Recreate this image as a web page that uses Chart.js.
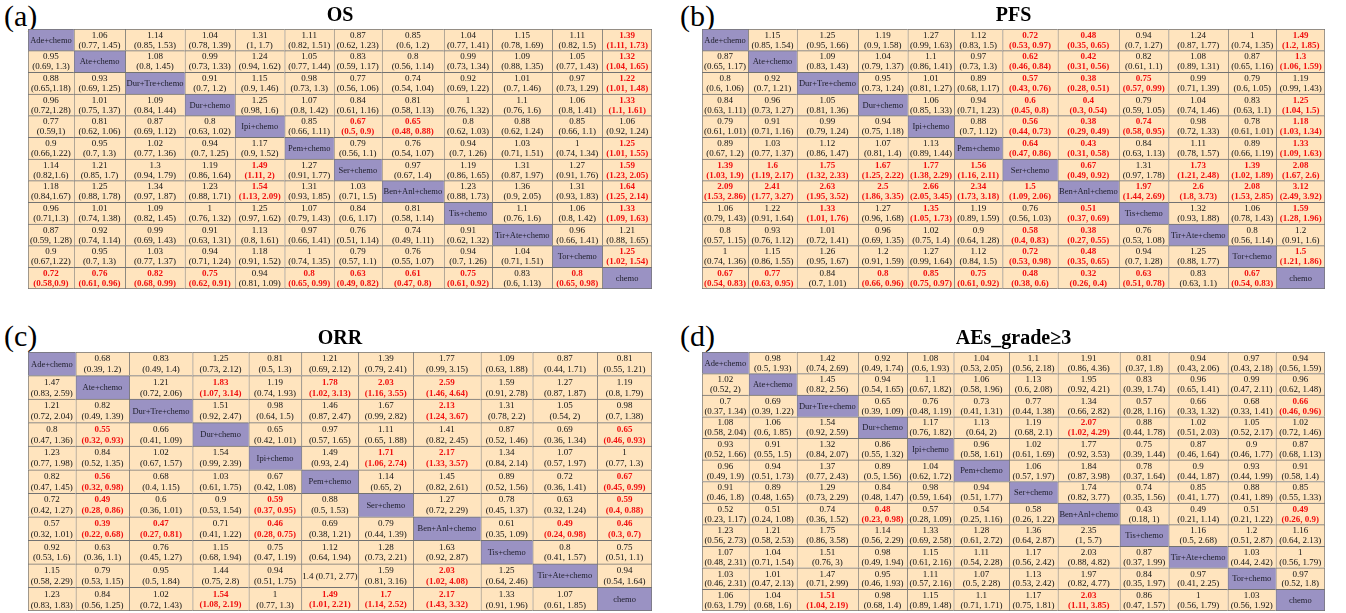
<!DOCTYPE html>
<html><head><meta charset="utf-8">
<script src="https://cdn.jsdelivr.net/npm/chart.js@4.4.1/dist/chart.umd.min.js"></script>
<style>
html,body{margin:0;padding:0;background:#fff;width:1346px;height:613px;overflow:hidden}
.tag{position:absolute;font-family:'Liberation Serif',serif;font-size:30px;color:#000;line-height:1}
canvas{position:absolute}
</style></head><body>
<div class="tag" style="left:4px;top:1px">(a)</div>
<div class="tag" style="left:680px;top:1px">(b)</div>
<div class="tag" style="left:4px;top:321px">(c)</div>
<div class="tag" style="left:680px;top:321px">(d)</div>
<canvas id="cA" width="624" height="289" style="left:28px;top:0px"></canvas>
<canvas id="cB" width="623" height="289" style="left:702px;top:0px"></canvas>
<canvas id="cC" width="624" height="288" style="left:28px;top:323px"></canvas>
<canvas id="cD" width="623" height="288" style="left:702px;top:323px"></canvas>
<script>
// ---------- DATA ----------
const treatments12 = ["Ade+chemo","Ate+chemo","Dur+Tre+chemo","Dur+chemo","Ipi+chemo","Pem+chemo","Ser+chemo","Ben+Anl+chemo","Tis+chemo","Tir+Ate+chemo","Tor+chemo","chemo"];
const treatments11 = ["Ade+chemo","Ate+chemo","Dur+Tre+chemo","Dur+chemo","Ipi+chemo","Pem+chemo","Ser+chemo","Ben+Anl+chemo","Tis+chemo","Tir+Ate+chemo","chemo"];

const osCells = [
["", "1.06 (0.77, 1.45)", "1.14 (0.85, 1.53)", "1.04 (0.78, 1.39)", "1.31 (1, 1.7)", "1.11 (0.82, 1.51)", "0.87 (0.62, 1.23)", "0.85 (0.6, 1.2)", "1.04 (0.77, 1.41)", "1.15 (0.78, 1.69)", "1.11 (0.82, 1.5)", "1.39 (1.11, 1.73)"],
["0.95 (0.69, 1.3)", "", "1.08 (0.8, 1.45)", "0.99 (0.73, 1.33)", "1.24 (0.94, 1.62)", "1.05 (0.77, 1.44)", "0.83 (0.59, 1.17)", "0.8 (0.56, 1.14)", "0.99 (0.73, 1.34)", "1.09 (0.88, 1.35)", "1.05 (0.77, 1.43)", "1.32 (1.04, 1.65)"],
["0.88 (0.65,1.18)", "0.93 (0.69, 1.25)", "", "0.91 (0.7, 1.2)", "1.15 (0.9, 1.46)", "0.98 (0.73, 1.3)", "0.77 (0.56, 1.06)", "0.74 (0.54, 1.04)", "0.92 (0.69, 1.22)", "1.01 (0.7, 1.46)", "0.97 (0.73, 1.29)", "1.22 (1.01, 1.48)"],
["0.96 (0.72,1.28)", "1.01 (0.75, 1.37)", "1.09 (0.84, 1.44)", "", "1.25 (0.98, 1.6)", "1.07 (0.8, 1.42)", "0.84 (0.61, 1.16)", "0.81 (0.58, 1.13)", "1 (0.76, 1.32)", "1.1 (0.76, 1.6)", "1.06 (0.8, 1.41)", "1.33 (1.1, 1.61)"],
["0.77 (0.59,1)", "0.81 (0.62, 1.06)", "0.87 (0.69, 1.12)", "0.8 (0.63, 1.02)", "", "0.85 (0.66, 1.11)", "0.67 (0.5, 0.9)", "0.65 (0.48, 0.88)", "0.8 (0.62, 1.03)", "0.88 (0.62, 1.24)", "0.85 (0.66, 1.1)", "1.06 (0.92, 1.24)"],
["0.9 (0.66,1.22)", "0.95 (0.7, 1.3)", "1.02 (0.77, 1.36)", "0.94 (0.7, 1.25)", "1.17 (0.9, 1.52)", "", "0.79 (0.56, 1.1)", "0.76 (0.54, 1.07)", "0.94 (0.7, 1.26)", "1.03 (0.71, 1.51)", "1 (0.74, 1.34)", "1.25 (1.01, 1.55)"],
["1.14 (0.82,1.6)", "1.21 (0.85, 1.7)", "1.3 (0.94, 1.79)", "1.19 (0.86, 1.64)", "1.49 (1.11, 2)", "1.27 (0.91, 1.77)", "", "0.97 (0.67, 1.4)", "1.19 (0.86, 1.65)", "1.31 (0.87, 1.97)", "1.27 (0.91, 1.76)", "1.59 (1.23, 2.05)"],
["1.18 (0.84,1.67)", "1.25 (0.88, 1.78)", "1.34 (0.97, 1.87)", "1.23 (0.88, 1.71)", "1.54 (1.13, 2.09)", "1.31 (0.93, 1.85)", "1.03 (0.71, 1.5)", "", "1.23 (0.88, 1.73)", "1.36 (0.9, 2.05)", "1.31 (0.93, 1.83)", "1.64 (1.25, 2.14)"],
["0.96 (0.71,1.3)", "1.01 (0.74, 1.38)", "1.09 (0.82, 1.45)", "1 (0.76, 1.32)", "1.25 (0.97, 1.62)", "1.07 (0.79, 1.43)", "0.84 (0.6, 1.17)", "0.81 (0.58, 1.14)", "", "1.1 (0.76, 1.6)", "1.06 (0.8, 1.42)", "1.33 (1.09, 1.63)"],
["0.87 (0.59, 1.28)", "0.92 (0.74, 1.14)", "0.99 (0.69, 1.43)", "0.91 (0.63, 1.31)", "1.13 (0.8, 1.61)", "0.97 (0.66, 1.41)", "0.76 (0.51, 1.14)", "0.74 (0.49, 1.11)", "0.91 (0.62, 1.32)", "", "0.96 (0.66, 1.41)", "1.21 (0.88, 1.65)"],
["0.9 (0.67,1.22)", "0.95 (0.7, 1.3)", "1.03 (0.77, 1.37)", "0.94 (0.71, 1.24)", "1.18 (0.91, 1.52)", "1 (0.74, 1.35)", "0.79 (0.57, 1.1)", "0.76 (0.55, 1.07)", "0.94 (0.7, 1.26)", "1.04 (0.71, 1.51)", "", "1.25 (1.02, 1.54)"],
["0.72 (0.58,0.9)", "0.76 (0.61, 0.96)", "0.82 (0.68, 0.99)", "0.75 (0.62, 0.91)", "0.94 (0.81, 1.09)", "0.8 (0.65, 0.99)", "0.63 (0.49, 0.82)", "0.61 (0.47, 0.8)", "0.75 (0.61, 0.92)", "0.83 (0.6, 1.13)", "0.8 (0.65, 0.98)", ""]
];

const pfsCells = [
["", "1.15 (0.85, 1.54)", "1.25 (0.95, 1.66)", "1.19 (0.9, 1.58)", "1.27 (0.99, 1.63)", "1.12 (0.83, 1.5)", "0.72 (0.53, 0.97)", "0.48 (0.35, 0.65)", "0.94 (0.7, 1.27)", "1.24 (0.87, 1.77)", "1 (0.74, 1.35)", "1.49 (1.2, 1.85)"],
["0.87 (0.65, 1.17)", "", "1.09 (0.83, 1.43)", "1.04 (0.79, 1.37)", "1.1 (0.86, 1.41)", "0.97 (0.73, 1.3)", "0.62 (0.46, 0.84)", "0.42 (0.31, 0.56)", "0.82 (0.61, 1.1)", "1.08 (0.89, 1.31)", "0.87 (0.65, 1.16)", "1.3 (1.06, 1.59)"],
["0.8 (0.6, 1.06)", "0.92 (0.7, 1.21)", "", "0.95 (0.73, 1.24)", "1.01 (0.81, 1.27)", "0.89 (0.68, 1.17)", "0.57 (0.43, 0.76)", "0.38 (0.28, 0.51)", "0.75 (0.57, 0.99)", "0.99 (0.71, 1.39)", "0.79 (0.6, 1.05)", "1.19 (0.99, 1.43)"],
["0.84 (0.63, 1.11)", "0.96 (0.73, 1.27)", "1.05 (0.81, 1.36)", "", "1.06 (0.85, 1.33)", "0.94 (0.71, 1.23)", "0.6 (0.45, 0.8)", "0.4 (0.3, 0.54)", "0.79 (0.59, 1.05)", "1.04 (0.74, 1.46)", "0.83 (0.63, 1.1)", "1.25 (1.04, 1.5)"],
["0.79 (0.61, 1.01)", "0.91 (0.71, 1.16)", "0.99 (0.79, 1.24)", "0.94 (0.75, 1.18)", "", "0.88 (0.7, 1.12)", "0.56 (0.44, 0.73)", "0.38 (0.29, 0.49)", "0.74 (0.58, 0.95)", "0.98 (0.72, 1.33)", "0.78 (0.61, 1.01)", "1.18 (1.03, 1.34)"],
["0.89 (0.67, 1.2)", "1.03 (0.77, 1.37)", "1.12 (0.86, 1.47)", "1.07 (0.81, 1.4)", "1.13 (0.89, 1.44)", "", "0.64 (0.47, 0.86)", "0.43 (0.31, 0.58)", "0.84 (0.63, 1.13)", "1.11 (0.78, 1.57)", "0.89 (0.66, 1.19)", "1.33 (1.09, 1.63)"],
["1.39 (1.03, 1.9)", "1.6 (1.19, 2.17)", "1.75 (1.32, 2.33)", "1.67 (1.25, 2.22)", "1.77 (1.38, 2.29)", "1.56 (1.16, 2.11)", "", "0.67 (0.49, 0.92)", "1.31 (0.97, 1.78)", "1.73 (1.21, 2.48)", "1.39 (1.02, 1.89)", "2.08 (1.67, 2.6)"],
["2.09 (1.53, 2.86)", "2.41 (1.77, 3.27)", "2.63 (1.95, 3.52)", "2.5 (1.86, 3.35)", "2.66 (2.05, 3.45)", "2.34 (1.73, 3.18)", "1.5 (1.09, 2.06)", "", "1.97 (1.44, 2.69)", "2.6 (1.8, 3.73)", "2.08 (1.53, 2.85)", "3.12 (2.49, 3.92)"],
["1.06 (0.79, 1.43)", "1.22 (0.91, 1.64)", "1.33 (1.01, 1.76)", "1.27 (0.96, 1.68)", "1.35 (1.05, 1.73)", "1.19 (0.89, 1.59)", "0.76 (0.56, 1.03)", "0.51 (0.37, 0.69)", "", "1.32 (0.93, 1.88)", "1.06 (0.78, 1.43)", "1.59 (1.28, 1.96)"],
["0.8 (0.57, 1.15)", "0.93 (0.76, 1.12)", "1.01 (0.72, 1.41)", "0.96 (0.69, 1.35)", "1.02 (0.75, 1.4)", "0.9 (0.64, 1.28)", "0.58 (0.4, 0.83)", "0.38 (0.27, 0.55)", "0.76 (0.53, 1.08)", "", "0.8 (0.56, 1.14)", "1.2 (0.91, 1.6)"],
["1 (0.74, 1.36)", "1.15 (0.86, 1.55)", "1.26 (0.95, 1.67)", "1.2 (0.91, 1.59)", "1.27 (0.99, 1.64)", "1.12 (0.84, 1.5)", "0.72 (0.53, 0.98)", "0.48 (0.35, 0.65)", "0.94 (0.7, 1.28)", "1.25 (0.88, 1.77)", "", "1.5 (1.21, 1.86)"],
["0.67 (0.54, 0.83)", "0.77 (0.63, 0.95)", "0.84 (0.7, 1.01)", "0.8 (0.66, 0.96)", "0.85 (0.75, 0.97)", "0.75 (0.61, 0.92)", "0.48 (0.38, 0.6)", "0.32 (0.26, 0.4)", "0.63 (0.51, 0.78)", "0.83 (0.63, 1.1)", "0.67 (0.54, 0.83)", ""]
];

const orrCells = [
["", "0.68 (0.39, 1.2)", "0.83 (0.49, 1.4)", "1.25 (0.73, 2.12)", "0.81 (0.5, 1.3)", "1.21 (0.69, 2.12)", "1.39 (0.79, 2.41)", "1.77 (0.99, 3.15)", "1.09 (0.63, 1.88)", "0.87 (0.44, 1.71)", "0.81 (0.55, 1.21)"],
["1.47 (0.83, 2.59)", "", "1.21 (0.72, 2.06)", "1.83 (1.07, 3.14)", "1.19 (0.74, 1.93)", "1.78 (1.02, 3.13)", "2.03 (1.16, 3.55)", "2.59 (1.46, 4.64)", "1.59 (0.91, 2.78)", "1.27 (0.87, 1.87)", "1.19 (0.8, 1.79)"],
["1.21 (0.72, 2.04)", "0.82 (0.49, 1.39)", "", "1.51 (0.92, 2.47)", "0.98 (0.64, 1.5)", "1.46 (0.87, 2.47)", "1.67 (0.99, 2.82)", "2.13 (1.24, 3.67)", "1.31 (0.78, 2.2)", "1.05 (0.54, 2)", "0.98 (0.7, 1.38)"],
["0.8 (0.47, 1.36)", "0.55 (0.32, 0.93)", "0.66 (0.41, 1.09)", "", "0.65 (0.42, 1.01)", "0.97 (0.57, 1.65)", "1.11 (0.65, 1.88)", "1.41 (0.82, 2.45)", "0.87 (0.52, 1.46)", "0.69 (0.36, 1.34)", "0.65 (0.46, 0.93)"],
["1.23 (0.77, 1.98)", "0.84 (0.52, 1.35)", "1.02 (0.67, 1.57)", "1.54 (0.99, 2.39)", "", "1.49 (0.93, 2.4)", "1.71 (1.06, 2.74)", "2.17 (1.33, 3.57)", "1.34 (0.84, 2.14)", "1.07 (0.57, 1.97)", "1 (0.77, 1.3)"],
["0.82 (0.47, 1.45)", "0.56 (0.32, 0.98)", "0.68 (0.4, 1.15)", "1.03 (0.61, 1.75)", "0.67 (0.42, 1.08)", "", "1.14 (0.65, 2)", "1.45 (0.82, 2.61)", "0.89 (0.52, 1.56)", "0.72 (0.36, 1.41)", "0.67 (0.45, 0.99)"],
["0.72 (0.42, 1.27)", "0.49 (0.28, 0.86)", "0.6 (0.36, 1.01)", "0.9 (0.53, 1.54)", "0.59 (0.37, 0.95)", "0.88 (0.5, 1.53)", "", "1.27 (0.72, 2.29)", "0.78 (0.45, 1.37)", "0.63 (0.32, 1.24)", "0.59 (0.4, 0.88)"],
["0.57 (0.32, 1.01)", "0.39 (0.22, 0.68)", "0.47 (0.27, 0.81)", "0.71 (0.41, 1.22)", "0.46 (0.28, 0.75)", "0.69 (0.38, 1.21)", "0.79 (0.44, 1.39)", "", "0.61 (0.35, 1.09)", "0.49 (0.24, 0.98)", "0.46 (0.3, 0.7)"],
["0.92 (0.53, 1.6)", "0.63 (0.36, 1.1)", "0.76 (0.45, 1.27)", "1.15 (0.68, 1.94)", "0.75 (0.47, 1.19)", "1.12 (0.64, 1.94)", "1.28 (0.73, 2.21)", "1.63 (0.92, 2.87)", "", "0.8 (0.41, 1.57)", "0.75 (0.51, 1.1)"],
["1.15 (0.58, 2.29)", "0.79 (0.53, 1.15)", "0.95 (0.5, 1.84)", "1.44 (0.75, 2.8)", "0.94 (0.51, 1.75)", "1.4 (0.71, 2.77)", "1.59 (0.81, 3.16)", "2.03 (1.02, 4.08)", "1.25 (0.64, 2.46)", "", "0.94 (0.54, 1.64)"],
["1.23 (0.83, 1.83)", "0.84 (0.56, 1.25)", "1.02 (0.72, 1.43)", "1.54 (1.08, 2.19)", "1 (0.77, 1.3)", "1.49 (1.01, 2.21)", "1.7 (1.14, 2.52)", "2.17 (1.43, 3.32)", "1.33 (0.91, 1.96)", "1.07 (0.61, 1.85)", ""]
];

const aeCells = [
["", "0.98 (0.5, 1.93)", "1.42 (0.74, 2.69)", "0.92 (0.49, 1.74)", "1.08 (0.6, 1.93)", "1.04 (0.53, 2.05)", "1.1 (0.56, 2.18)", "1.91 (0.86, 4.36)", "0.81 (0.37, 1.8)", "0.94 (0.43, 2.06)", "0.97 (0.43, 2.18)", "0.94 (0.56, 1.59)"],
["1.02 (0.52, 2)", "", "1.45 (0.82, 2.56)", "0.94 (0.54, 1.65)", "1.1 (0.67, 1.82)", "1.06 (0.58, 1.96)", "1.13 (0.6, 2.08)", "1.95 (0.92, 4.21)", "0.83 (0.39, 1.74)", "0.96 (0.65, 1.41)", "0.99 (0.47, 2.11)", "0.96 (0.62, 1.48)"],
["0.7 (0.37, 1.34)", "0.69 (0.39, 1.22)", "", "0.65 (0.39, 1.09)", "0.76 (0.48, 1.19)", "0.73 (0.41, 1.31)", "0.77 (0.44, 1.38)", "1.34 (0.66, 2.82)", "0.57 (0.28, 1.16)", "0.66 (0.33, 1.32)", "0.68 (0.33, 1.41)", "0.66 (0.46, 0.96)"],
["1.08 (0.58, 2.04)", "1.06 (0.6, 1.85)", "1.54 (0.92, 2.59)", "", "1.17 (0.76, 1.82)", "1.13 (0.64, 2)", "1.19 (0.68, 2.1)", "2.07 (1.02, 4.29)", "0.88 (0.44, 1.78)", "1.02 (0.51, 2.03)", "1.05 (0.52, 2.17)", "1.02 (0.72, 1.46)"],
["0.93 (0.52, 1.66)", "0.91 (0.55, 1.5)", "1.32 (0.84, 2.07)", "0.86 (0.55, 1.32)", "", "0.96 (0.58, 1.61)", "1.02 (0.61, 1.69)", "1.77 (0.92, 3.53)", "0.75 (0.39, 1.44)", "0.87 (0.46, 1.64)", "0.9 (0.46, 1.77)", "0.87 (0.68, 1.13)"],
["0.96 (0.49, 1.9)", "0.94 (0.51, 1.73)", "1.37 (0.77, 2.43)", "0.89 (0.5, 1.56)", "1.04 (0.62, 1.72)", "", "1.06 (0.57, 1.97)", "1.84 (0.87, 3.98)", "0.78 (0.37, 1.64)", "0.9 (0.44, 1.87)", "0.93 (0.44, 1.99)", "0.91 (0.58, 1.4)"],
["0.91 (0.46, 1.8)", "0.89 (0.48, 1.65)", "1.29 (0.73, 2.29)", "0.84 (0.48, 1.47)", "0.98 (0.59, 1.64)", "0.94 (0.51, 1.77)", "", "1.74 (0.82, 3.77)", "0.74 (0.35, 1.56)", "0.85 (0.41, 1.77)", "0.88 (0.41, 1.89)", "0.85 (0.55, 1.33)"],
["0.52 (0.23, 1.17)", "0.51 (0.24, 1.08)", "0.74 (0.36, 1.52)", "0.48 (0.23, 0.98)", "0.57 (0.28, 1.09)", "0.54 (0.25, 1.16)", "0.58 (0.26, 1.22)", "", "0.43 (0.18, 1)", "0.49 (0.21, 1.14)", "0.51 (0.21, 1.22)", "0.49 (0.26, 0.9)"],
["1.23 (0.56, 2.73)", "1.21 (0.58, 2.53)", "1.75 (0.86, 3.58)", "1.14 (0.56, 2.29)", "1.33 (0.69, 2.58)", "1.28 (0.61, 2.72)", "1.36 (0.64, 2.87)", "2.35 (1, 5.7)", "", "1.16 (0.5, 2.68)", "1.2 (0.51, 2.87)", "1.16 (0.64, 2.13)"],
["1.07 (0.48, 2.31)", "1.04 (0.71, 1.54)", "1.51 (0.76, 3)", "0.98 (0.49, 1.94)", "1.15 (0.61, 2.16)", "1.11 (0.54, 2.28)", "1.17 (0.56, 2.42)", "2.03 (0.88, 4.82)", "0.87 (0.37, 1.99)", "", "1.03 (0.44, 2.42)", "1 (0.56, 1.79)"],
["1.03 (0.46, 2.31)", "1.01 (0.47, 2.13)", "1.47 (0.71, 2.99)", "0.95 (0.46, 1.93)", "1.11 (0.57, 2.16)", "1.07 (0.5, 2.28)", "1.13 (0.53, 2.42)", "1.97 (0.82, 4.77)", "0.84 (0.35, 1.97)", "0.97 (0.41, 2.25)", "", "0.97 (0.52, 1.8)"],
["1.06 (0.63, 1.79)", "1.04 (0.68, 1.6)", "1.51 (1.04, 2.19)", "0.98 (0.68, 1.4)", "1.15 (0.89, 1.48)", "1.1 (0.71, 1.71)", "1.17 (0.75, 1.81)", "2.03 (1.11, 3.85)", "0.86 (0.47, 1.57)", "1 (0.56, 1.79)", "1.03 (0.56, 1.92)", ""]
];

// ---------- LAYOUT / STYLE ----------
const PEACH = '#FFE4BE', PURPLE = '#9A92C3', GRID = '#727272', RED = '#F01010';
const FONT = "'Liberation Serif', 'Times New Roman', serif";
const colWA = [108,121,140,118,117,116,113,146,114,141,118,117];
const colWB = [107,113,142,115,108,112,128,142,115,138,112,113];
const colWC = [113,127,150,133,125,135,130,160,123,153,130];
const colWD = [110,113,144,116,109,131,114,146,115,139,113,116];
const oneLineC = [[9,5]]; // row/col of the cell printed on one line

const cellText = {
  id: 'cellText',
  afterDatasetsDraw(chart, args, opts) {
    const ctx = chart.ctx;
    const names = opts.names, cells = opts.cells, one = opts.oneLine || [];
    ctx.save();
    ctx.textAlign = 'center';
    ctx.textBaseline = 'middle';
    chart.data.datasets.forEach((ds, j) => {
      const meta = chart.getDatasetMeta(j);
      meta.data.forEach((el, i) => {
        const cx = (el.x + el.base) / 2, cy = el.y, h = el.height;
        if (i === j) {
          ctx.fillStyle = '#1e1e2a';
          ctx.font = `8.5px ${FONT}`;
          ctx.fillText(names[i], cx, cy + 0.5);
          return;
        }
        const s = cells[i][j];
        const k = s.indexOf(' ');
        const est = s.slice(0, k), ci = s.slice(k + 1);
        const m = ci.match(/\(([\d.]+),\s*([\d.]+)\)/);
        const lo = parseFloat(m[1]), hi = parseFloat(m[2]);
        const sig = lo > 1 || hi < 1;
        ctx.fillStyle = sig ? RED : '#111';
        ctx.font = `${sig ? 'bold ' : ''}9px ${FONT}`;
        const single = one.some(p => p[0] === i && p[1] === j);
        if (single) {
          ctx.fillText(s, cx, cy + 0.5);
        } else {
          const off = h * 0.23;
          ctx.fillText(est, cx, cy - off + 0.5);
          ctx.fillText(ci, cx, cy + off + 0.5);
        }
      });
    });
    ctx.restore();
  }
};

function makeTable(id, title, names, cells, colW, oneLine) {
  const n = names.length;
  const total = colW.reduce((a, b) => a + b, 0);
  const datasets = names.map((nm, j) => ({
    label: nm,
    data: names.map(() => colW[j]),
    backgroundColor: names.map((_, i) => i === j ? PURPLE : PEACH),
    borderColor: GRID,
    borderWidth: (c) => ({ left: 1, top: 1, right: j === n - 1 ? 1 : 0, bottom: c.dataIndex === n - 1 ? 1 : 0 }),
    borderSkipped: false,
    barPercentage: 1,
    categoryPercentage: 1,
    stack: 's'
  }));
  new Chart(document.getElementById(id), {
    type: 'bar',
    data: { labels: names, datasets },
    options: {
      indexAxis: 'y',
      responsive: false,
      animation: false,
      layout: { padding: 0 },
      scales: {
        x: { stacked: true, min: 0, max: total, display: false, grid: { display: false } },
        y: { stacked: true, display: false, grid: { display: false } }
      },
      plugins: {
        legend: { display: false },
        tooltip: { enabled: false },
        title: { display: true, text: title, color: '#000', font: { family: FONT, size: 20, weight: 'bold' }, padding: { top: 4, bottom: 1 } },
        cellText: { names, cells, oneLine }
      }
    },
    plugins: [cellText]
  });
}

makeTable('cA', 'OS', treatments12, osCells, colWA);
makeTable('cB', 'PFS', treatments12, pfsCells, colWB);
makeTable('cC', 'ORR', treatments11, orrCells, colWC, oneLineC);
makeTable('cD', 'AEs_grade≥3', treatments12, aeCells, colWD);
</script>
</body></html>
